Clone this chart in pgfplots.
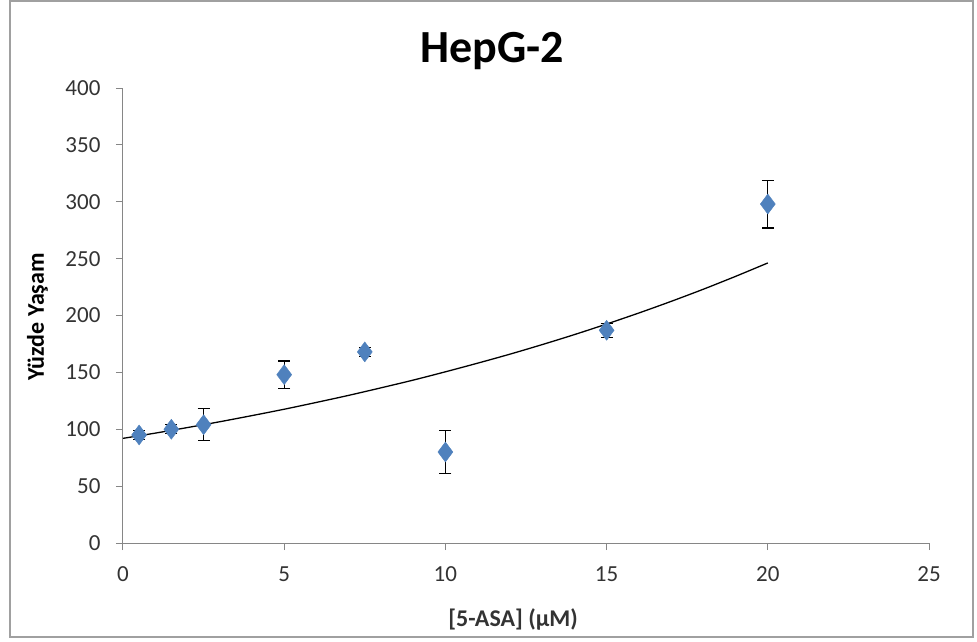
\documentclass[border=0pt]{standalone}
\usepackage{pgfplots}
\pgfplotsset{compat=1.18}
\usepackage{fontspec}
\setmainfont{Carlito}
\definecolor{axgray}{RGB}{134,134,134}
\definecolor{frameg}{RGB}{160,160,160}
\definecolor{ptblue}{RGB}{79,129,189}
\begin{document}
\begin{tikzpicture}
\useasboundingbox (-123pt,-98pt) rectangle (854pt,543pt);
\draw[frameg,line width=1.5pt] (-113pt,-94pt) rectangle (850pt,542pt);
\begin{axis}[
  scale only axis, width=806pt, height=455pt,
  xmin=0, xmax=25, ymin=0, ymax=400,
  xtick={0,5,10,15,20,25}, ytick={0,50,...,400},
  axis x line*=bottom, axis y line*=left,
  axis line style={axgray, line width=1pt, -},
  tick style={axgray, line width=1pt},
  tick align=outside, major tick length=7pt,
  ticklabel style={font=\fontsize{23}{26}\selectfont, text=black!80},
  /pgf/number format/assume math mode=true,
  xticklabel style={yshift=-13pt},
  yticklabel style={xshift=-12pt},
  title={HepG-2},
  title style={font=\fontsize{46}{52}\bfseries\selectfont, at={(axis description cs:0.458,1.043)}, anchor=base},
  xlabel={[5-ASA] (µM)},
  xlabel style={font=\fontsize{24}{28}\bfseries\selectfont, text=black!80, at={(axis description cs:0.484,-0.183)}, anchor=base},
  ylabel={Yüzde Yaşam},
  ylabel style={font=\fontsize{24}{28}\bfseries\selectfont, at={(axis description cs:-0.106,0.497)}, anchor=center},
  clip=false,
]
\addplot[black, line width=1.3pt, smooth] coordinates {
(0,92) (1,96.6) (2,101.5) (3,106.6) (4,112.0) (5,117.6) (6,123.6) (7,129.8)
(8,136.4) (9,143.2) (10,150.5) (11,158.1) (12,166.0) (13,174.4) (14,183.2)
(15,192.5) (16,202.2) (17,212.4) (18,223.1) (19,234.4) (20,246.2)};
\addplot[only marks, mark=diamond*, mark size=10pt, mark options={fill=ptblue, draw=ptblue},
  error bars/.cd, y dir=both, y explicit,
  error bar style={black, line width=1.2pt},
  error mark options={rotate=90, mark size=6pt, black, line width=1.2pt}]
coordinates {
(0.5,95) +- (0,4)
(1.5,100) +- (0,4)
(2.5,104) +- (0,14)
(5,148) +- (0,12)
(7.5,168) +- (0,4)
(10,80) +- (0,19)
(15,187) +- (0,6)
(20,298) +- (0,21)
};
\end{axis}
\end{tikzpicture}
\end{document}
